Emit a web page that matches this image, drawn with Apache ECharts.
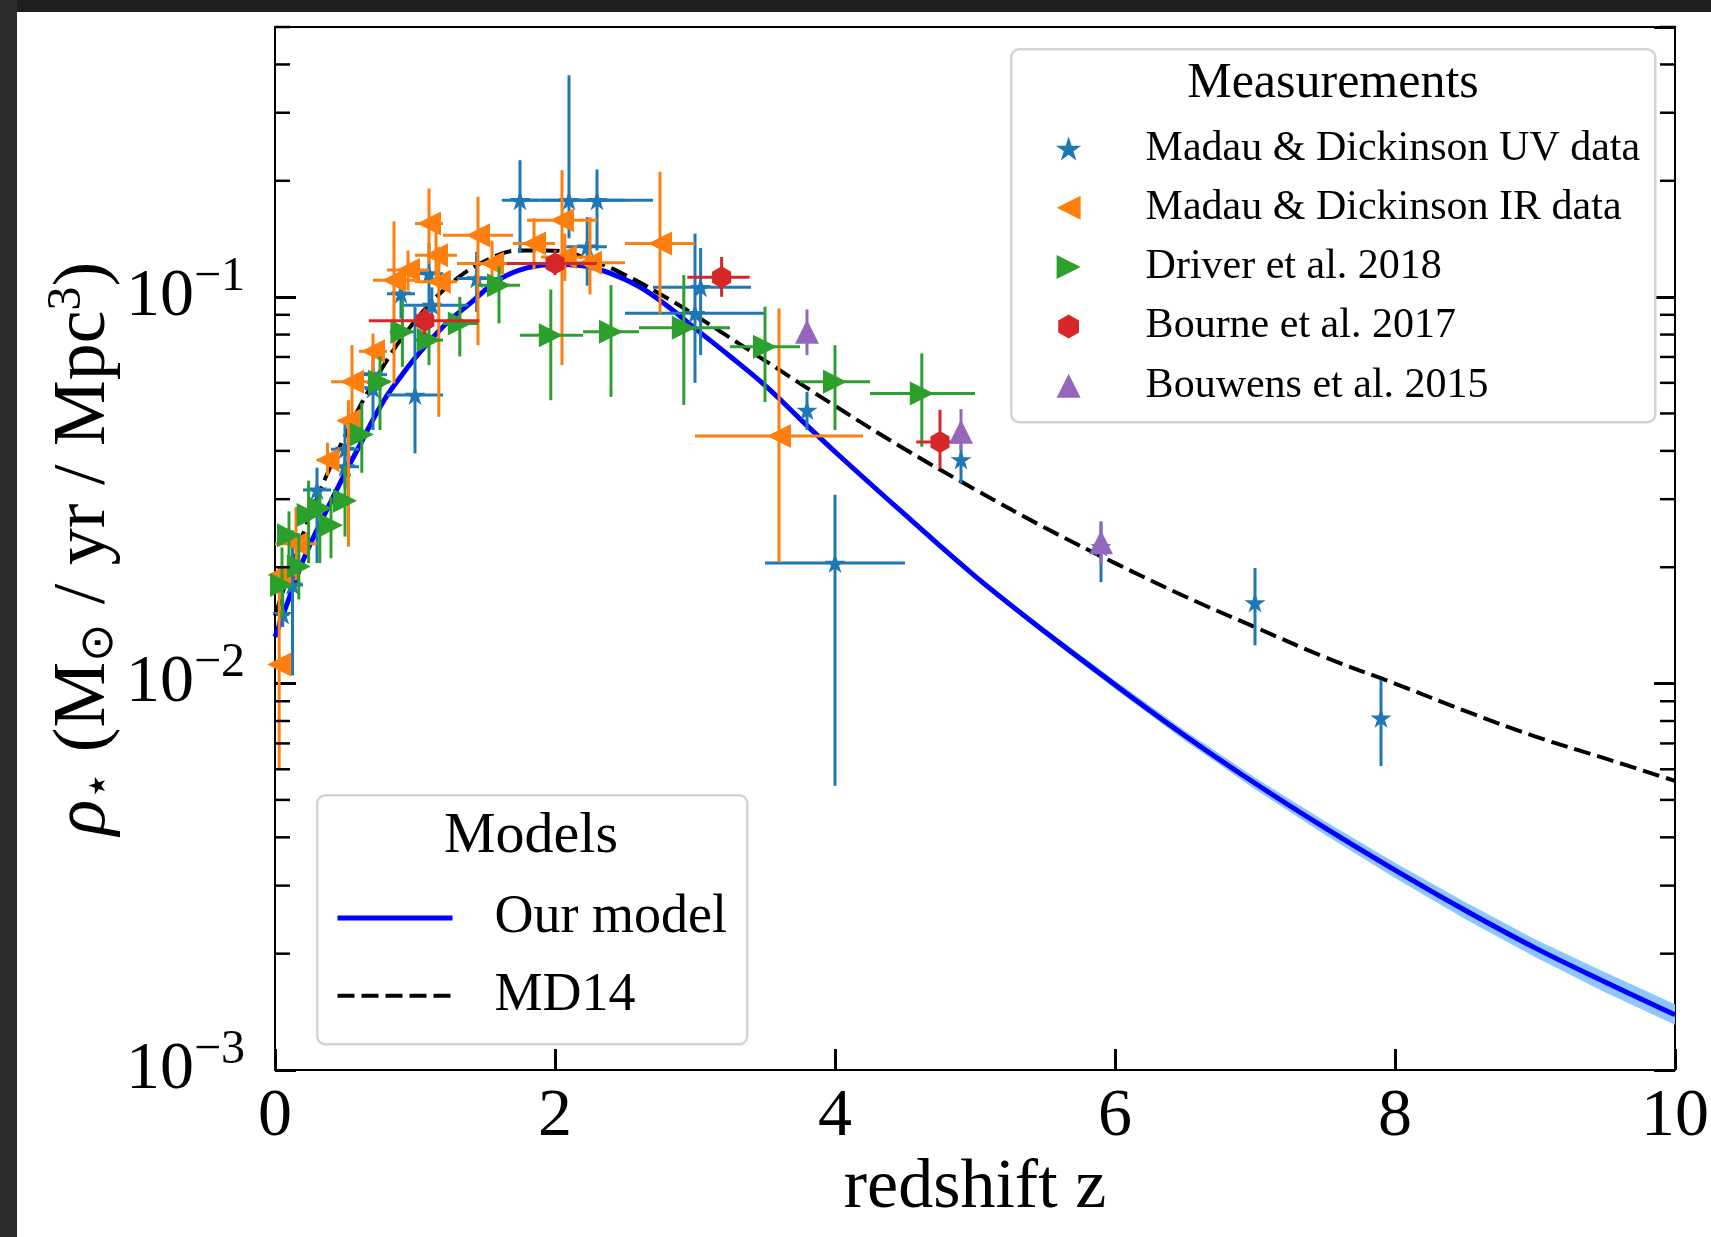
<!DOCTYPE html>
<html>
<head>
<meta charset="utf-8">
<script src="https://cdn.jsdelivr.net/npm/echarts@6/dist/echarts.min.js"></script>
<style>
  html, body { margin: 0; padding: 0; background: #fff; }
  #chart { position: absolute; left: 0; top: 0; width: 1711px; height: 1237px; }
  .edge { position: absolute; z-index: 5; }
</style>
</head>
<body>
<div id="chart"></div>
<div class="edge" style="left:0;top:0;width:1711px;height:12px;background:#1f1f1f"></div>
<div class="edge" style="left:0;top:0;width:17px;height:1237px;background:#2c2c2c"></div>
<script>
// ---- axis ranges and ticks ----
const zMin = 0, zMax = 10, zStep = 2;
const rhoMin = 0.001, rhoMax = 0.5;
const rhoMinorTicks = [0.002, 0.003, 0.004, 0.005, 0.006, 0.007, 0.008, 0.009,
                       0.02, 0.03, 0.04, 0.05, 0.06, 0.07, 0.08, 0.09,
                       0.2, 0.3, 0.4, 0.5];

// ---- measurements: [z, zLow, zHigh, rho, rhoLow, rhoHigh] ----
const uvRows = [
  [0.055, 0.01, 0.10, 0.0151, 0.0140, 0.0185],
  [0.125, 0.05, 0.20, 0.0180, 0.0105, 0.0249],
  [0.30, 0.20, 0.40, 0.0317, 0.0205, 0.0362],
  [0.50, 0.40, 0.60, 0.0364, 0.0320, 0.0410],
  [0.50, 0.40, 0.60, 0.0404, 0.0340, 0.0470],
  [0.70, 0.60, 0.80, 0.0630, 0.0560, 0.0700],
  [0.70, 0.64, 0.76, 0.0580, 0.0453, 0.0647],
  [0.90, 0.80, 1.00, 0.102, 0.088, 0.116],
  [1.00, 0.80, 1.20, 0.0558, 0.0394, 0.0944],
  [1.10, 1.00, 1.20, 0.115, 0.0964, 0.138],
  [1.12, 0.92, 1.38, 0.0953, 0.0855, 0.106],
  [1.44, 1.30, 1.63, 0.1117, 0.0916, 0.131],
  [1.75, 1.62, 1.88, 0.178, 0.130, 0.226],
  [2.10, 1.70, 2.50, 0.178, 0.142, 0.375],
  [2.30, 1.90, 2.70, 0.178, 0.132, 0.214],
  [2.23, 2.08, 2.37, 0.135, 0.107, 0.161],
  [3.04, 2.70, 3.40, 0.106, 0.0708, 0.134],
  [3.00, 2.50, 3.50, 0.0908, 0.060, 0.146],
  [3.80, 3.80, 3.80, 0.0510, 0.0453, 0.0569],
  [4.00, 3.50, 4.50, 0.0205, 0.00544, 0.0308],
  [4.90, 4.90, 4.90, 0.0380, 0.0330, 0.0415],
  [5.90, 5.90, 5.90, 0.0226, 0.0183, 0.0261],
  [7.00, 7.00, 7.00, 0.0162, 0.01256, 0.0199],
  [7.90, 7.90, 7.90, 0.00815, 0.00612, 0.01023]
];
const irRows = [
  [0.03, 0.03, 0.03, 0.0112, 0.0060, 0.0199],
  [0.03, 0.03, 0.03, 0.0191, 0.0182, 0.0200],
  [0.15, 0.00, 0.30, 0.0230, 0.0185, 0.0286],
  [0.375, 0.30, 0.45, 0.0379, 0.0345, 0.0420],
  [0.525, 0.45, 0.60, 0.0479, 0.0226, 0.0541],
  [0.55, 0.40, 0.70, 0.0604, 0.0485, 0.0751],
  [0.70, 0.60, 0.80, 0.0724, 0.0610, 0.0805],
  [0.85, 0.70, 1.00, 0.1106, 0.0598, 0.157],
  [0.95, 0.80, 1.10, 0.1175, 0.104, 0.132],
  [1.10, 1.00, 1.20, 0.155, 0.122, 0.191],
  [1.15, 1.00, 1.30, 0.1284, 0.110, 0.150],
  [1.17, 1.00, 1.30, 0.1096, 0.049, 0.135],
  [1.45, 1.20, 1.70, 0.1445, 0.0751, 0.1817],
  [1.55, 1.30, 1.80, 0.1222, 0.105, 0.140],
  [1.85, 1.70, 2.00, 0.1377, 0.118, 0.160],
  [2.05, 1.80, 2.30, 0.158, 0.0667, 0.213],
  [2.07, 1.90, 2.25, 0.127, 0.110, 0.146],
  [2.25, 2.00, 2.50, 0.1227, 0.1016, 0.161],
  [2.75, 2.50, 3.00, 0.1377, 0.0908, 0.211],
  [3.60, 3.00, 4.20, 0.0437, 0.0206, 0.0935]
];
const driverRows = [
  [0.05, 0.02, 0.08, 0.0180, 0.0148, 0.0225],
  [0.10, 0.06, 0.14, 0.0242, 0.0213, 0.0279],
  [0.17, 0.14, 0.20, 0.0201, 0.0165, 0.0245],
  [0.24, 0.20, 0.28, 0.0273, 0.0205, 0.0335],
  [0.32, 0.28, 0.36, 0.0284, 0.0205, 0.0310],
  [0.40, 0.36, 0.45, 0.0257, 0.0211, 0.0304],
  [0.50, 0.45, 0.56, 0.0297, 0.0240, 0.0365],
  [0.62, 0.56, 0.68, 0.0441, 0.0351, 0.0532],
  [0.75, 0.68, 0.82, 0.0604, 0.0453, 0.0702],
  [0.91, 0.82, 1.00, 0.0813, 0.0660, 0.0980],
  [1.10, 1.00, 1.20, 0.0774, 0.0667, 0.0900],
  [1.32, 1.20, 1.45, 0.0855, 0.0702, 0.1002],
  [1.60, 1.45, 1.75, 0.1074, 0.0855, 0.120],
  [1.97, 1.75, 2.20, 0.0797, 0.0541, 0.1047],
  [2.40, 2.20, 2.60, 0.0813, 0.0552, 0.1074],
  [2.92, 2.60, 3.25, 0.0833, 0.0526, 0.114],
  [3.50, 3.25, 3.75, 0.0744, 0.0535, 0.0944],
  [4.00, 3.75, 4.25, 0.0604, 0.0453, 0.0751],
  [4.62, 4.25, 5.00, 0.0563, 0.0410, 0.0715]
];
const bourneRows = [
  [1.07, 0.67, 1.46, 0.0868, 0.080, 0.094],
  [2.00, 1.655, 2.30, 0.1222, 0.114, 0.1324],
  [3.19, 2.945, 3.39, 0.1125, 0.1002, 0.127],
  [4.75, 4.58, 4.88, 0.0422, 0.0360, 0.0511]
];
const bouwensRows = [
  [3.8, 3.8, 3.8, 0.0813, 0.0708, 0.0929],
  [4.9, 4.9, 4.9, 0.0448, 0.0402, 0.0513],
  [5.9, 5.9, 5.9, 0.0232, 0.0204, 0.0263]
];

// ---- model curves ----
const modelZ = [0, 0.1, 0.2, 0.3, 0.4, 0.5, 0.6, 0.7, 0.8, 0.9, 1.0, 1.2, 1.4, 1.6, 1.8, 2.0,
                2.2, 2.4, 2.6, 2.8, 3.0, 3.25, 3.5, 3.75, 4.0, 4.5, 5.0, 5.5, 6.0, 6.5,
                7.0, 7.5, 8.0, 8.5, 9.0, 9.5, 10];
const modelRho = [0.0132, 0.0166, 0.0208, 0.0250, 0.0296, 0.0350, 0.0410, 0.0482, 0.0556,
                  0.0624, 0.0695, 0.0838, 0.0968, 0.1110, 0.1190, 0.1215, 0.1205, 0.1150,
                  0.1065, 0.0950, 0.0830, 0.0703, 0.0591, 0.0484, 0.0398, 0.02735, 0.01897,
                  0.01361, 0.00993, 0.00733, 0.00552, 0.00423, 0.00329, 0.00259, 0.00207,
                  0.00169, 0.00139];
const bandZ  = [4.5, 5.0, 5.5, 6.0, 6.5, 7.0, 7.5, 8.0, 8.5, 9.0, 9.5, 10];
const bandLo = [0.0271, 0.01869, 0.01334, 0.00968, 0.00711, 0.00533, 0.00406, 0.00314,
                0.00246, 0.00196, 0.00159, 0.00131];
const bandHi = [0.0276, 0.01925, 0.01388, 0.01018, 0.00755, 0.00571, 0.00440, 0.00344,
                0.00272, 0.00218, 0.00179, 0.00148];
const md14Z = [0, 0.25, 0.5, 0.75, 1.0, 1.25, 1.5, 1.75, 2.0, 2.25, 2.5, 2.75, 3.0, 3.5, 4.0,
               4.5, 5.0, 5.5, 6.0, 6.5, 7.0, 7.5, 8.0, 8.5, 9.0, 9.5, 10];
const md14Rho = [0.0150, 0.0272, 0.0437, 0.0642, 0.0867, 0.1079, 0.1240, 0.1321, 0.1319,
                 0.1250, 0.1142, 0.1019, 0.0898, 0.0685, 0.0523, 0.0404, 0.0318, 0.0253,
                 0.0205, 0.0168, 0.0140, 0.0117, 0.0100, 0.0085, 0.0073, 0.0064, 0.0056];

// ---- styling ----
const FONT = "'Liberation Serif', 'Times New Roman', serif";
const C = { uv: '#1f77b4', ir: '#ff7f0e', driver: '#2ca02c', bourne: '#d62728',
            bouwens: '#9467bd', model: '#0000ff', band: '#8ec7ff' };

function starPath() {
  const pts = [];
  for (let i = 0; i < 10; i++) {
    const a = -Math.PI / 2 + i * Math.PI / 5;
    const r = i % 2 ? 0.381966 : 1;
    pts.push((r * Math.cos(a)).toFixed(4) + ',' + (r * Math.sin(a)).toFixed(4));
  }
  return 'path://M' + pts.join(' L') + ' Z';
}
function hexPath() {
  const pts = [];
  for (let i = 0; i < 6; i++) {
    const a = -Math.PI / 2 + i * Math.PI / 3;
    pts.push(Math.cos(a).toFixed(4) + ',' + Math.sin(a).toFixed(4));
  }
  return 'path://M' + pts.join(' L') + ' Z';
}
const STAR = starPath(), HEX = hexPath();
const TRI_LEFT = 'path://M1,-1 L1,1 L-1,0 Z';
const TRI_RIGHT = 'path://M-1,-1 L-1,1 L1,0 Z';
const TRI_UP = 'path://M0,-1 L1,1 L-1,1 Z';

function errorBars(id, rows, color, z) {
  return {
    type: 'custom', id: id, z: z, silent: true, clip: true,
    data: rows, encode: { x: 0, y: 3 },
    renderItem: function (params, api) {
      const zc = api.value(0), zl = api.value(1), zh = api.value(2);
      const v = api.value(3), vl = api.value(4), vh = api.value(5);
      const style = { stroke: color, lineWidth: 3, fill: null };
      const kids = [];
      if (zh > zl) {
        const a = api.coord([zl, v]), b = api.coord([zh, v]);
        kids.push({ type: 'line', shape: { x1: a[0], y1: a[1], x2: b[0], y2: b[1] }, style: style });
      }
      const c = api.coord([zc, vl]), d = api.coord([zc, vh]);
      kids.push({ type: 'line', shape: { x1: c[0], y1: c[1], x2: d[0], y2: d[1] }, style: style });
      return { type: 'group', children: kids };
    }
  };
}
function markers(name, rows, color, symbol, size, z) {
  return {
    type: 'scatter', name: name, z: z, silent: true,
    symbol: symbol, symbolSize: size, symbolKeepAspect: true,
    itemStyle: { color: color, opacity: 1 },
    data: rows.map(r => [r[0], r[3]])
  };
}

const yLabelRich = {
  b: { fontSize: 68, fontFamily: FONT, color: '#000' },
  s: { fontSize: 48, fontFamily: FONT, color: '#000', padding: [0, 0, 40, 0] }
};
const yNameRich = {
  i: { fontSize: 74, fontFamily: FONT, fontStyle: 'italic', color: '#000', lineHeight: 84 },
  n: { fontSize: 74, fontFamily: FONT, color: '#000', lineHeight: 84 },
  sub: { fontSize: 46, fontFamily: FONT, color: '#000', padding: [30, 0, 0, 0] },
  sup: { fontSize: 48, fontFamily: FONT, color: '#000', padding: [0, 0, 36, 0] }
};

const chart = echarts.init(document.getElementById('chart'), null, { renderer: 'canvas' });
chart.setOption({
  animation: false,
  backgroundColor: '#ffffff',
  grid: { left: 275, right: 36, top: 27, bottom: 167, show: true, borderColor: '#000',
          borderWidth: 2, backgroundColor: 'transparent', containLabel: false,
          outerBoundsMode: 'none' },
  xAxis: {
    type: 'value', min: zMin, max: zMax, interval: zStep,
    axisLine: { show: true, lineStyle: { color: '#000', width: 2 } },
    axisTick: { show: true, inside: true, length: 21, lineStyle: { color: '#000', width: 3 } },
    axisLabel: { margin: 13, fontSize: 68, fontFamily: FONT, color: '#000' },
    splitLine: { show: false },
    name: 'redshift z', nameLocation: 'middle', nameGap: 84, nameMoveOverlap: false,
    nameTextStyle: { fontSize: 70, fontFamily: FONT, color: '#000' }
  },
  yAxis: [{
    type: 'log', logBase: 10, min: rhoMin, max: rhoMax, position: 'left',
    axisLine: { show: true, lineStyle: { color: '#000', width: 2 } },
    axisTick: { show: true, inside: true, length: 21, lineStyle: { color: '#000', width: 3 } },
    axisLabel: {
      margin: 30, showMaxLabel: false,
      formatter: function (v) {
        const e = Math.log10(v), r = Math.round(e);
        if (Math.abs(e - r) > 1e-6) return '';
        return '{b|10}{s|\u2212' + (-r) + '}';
      },
      rich: yLabelRich
    },
    splitLine: { show: false },
    name: '{i|\u03C1}{sub|\u22C6}{n| (M}{sub|\u2299}{n| / yr / Mpc}{sup|3}{n|)}',
    nameLocation: 'middle', nameRotate: 90, nameGap: 148, nameMoveOverlap: false,
    nameTextStyle: { rich: yNameRich }
  }, {
    type: 'log', logBase: 10, min: rhoMin, max: rhoMax, position: 'right',
    axisLine: { show: false },
    axisTick: { show: true, inside: true, length: 21, lineStyle: { color: '#000', width: 3 } },
    axisLabel: { show: false },
    splitLine: { show: false }
  }],
  legend: [{
    data: [
      { name: 'Madau & Dickinson UV data', icon: STAR },
      { name: 'Madau & Dickinson IR data', icon: TRI_LEFT },
      { name: 'Driver et al. 2018', icon: TRI_RIGHT },
      { name: 'Bourne et al. 2017', icon: HEX },
      { name: 'Bouwens et al. 2015', icon: TRI_UP }
    ],
    orient: 'vertical', left: 1056, top: 127.5, padding: 0,
    itemWidth: 26, itemHeight: 24, itemGap: 17.3, selectedMode: false,
    symbolKeepAspect: true,
    textStyle: { fontSize: 42, fontFamily: FONT, color: '#000', padding: [0, 0, 0, 59] }
  }, {
    data: [
      { name: 'Our model', itemStyle: { opacity: 0 }, lineStyle: { width: 5, color: C.model, type: 'solid' } },
      { name: 'MD14', itemStyle: { opacity: 0 }, lineStyle: { width: 4, color: '#000', type: [17, 7] } }
    ],
    orient: 'vertical', left: 335, top: 891, padding: 0,
    itemWidth: 115, itemHeight: 20, itemGap: 23.8, selectedMode: false,
    itemStyle: { opacity: 0 },
    textStyle: { fontSize: 54, fontFamily: FONT, color: '#000', padding: [0, 0, 0, 37] }
  }],
  graphic: [
    { type: 'rect', left: 1010, top: 48, z: 3, shape: { width: 644, height: 373, r: 8 },
      style: { fill: 'rgba(255,255,255,0.8)', stroke: '#d4d4d4', lineWidth: 2.5 } },
    { type: 'text', x: 1333, y: 84, z: 5,
      style: { text: 'Measurements', fontSize: 50, fontFamily: FONT, fill: '#000',
               textAlign: 'center', textVerticalAlign: 'middle' } },
    { type: 'rect', left: 316, top: 794, z: 3, shape: { width: 430, height: 249, r: 8 },
      style: { fill: 'rgba(255,255,255,0.8)', stroke: '#d4d4d4', lineWidth: 2.5 } },
    { type: 'text', x: 531, y: 837, z: 5,
      style: { text: 'Models', fontSize: 58, fontFamily: FONT, fill: '#000',
               textAlign: 'center', textVerticalAlign: 'middle' } }
  ],
  series: [
    // uncertainty band of our model
    {
      type: 'custom', id: 'band', z: 3, silent: true, clip: true,
      data: [[bandZ[0], bandLo[0]]], encode: { x: 0, y: 1 },
      renderItem: function (params, api) {
        const pts = [];
        for (let i = 0; i < bandZ.length; i++) pts.push(api.coord([bandZ[i], bandHi[i]]));
        for (let i = bandZ.length - 1; i >= 0; i--) pts.push(api.coord([bandZ[i], bandLo[i]]));
        return { type: 'polygon', shape: { points: pts }, style: { fill: C.band } };
      }
    },
    {
      type: 'line', name: 'Our model', z: 5, silent: true, symbol: 'none', showSymbol: false,
      smooth: 0.4,
      lineStyle: { color: C.model, width: 5 }, itemStyle: { color: C.model },
      data: modelZ.map((z, i) => [z, modelRho[i]])
    },
    {
      type: 'line', name: 'MD14', z: 6, silent: true, symbol: 'none', showSymbol: false,
      smooth: 0.4,
      lineStyle: { color: '#000', width: 4, type: [17, 7] }, itemStyle: { color: '#000' },
      data: md14Z.map((z, i) => [z, md14Rho[i]])
    },
    errorBars('uv-err', uvRows, C.uv, 10),
    markers('Madau & Dickinson UV data', uvRows, C.uv, STAR, 21, 11),
    errorBars('ir-err', irRows, C.ir, 12),
    markers('Madau & Dickinson IR data', irRows, C.ir, TRI_LEFT, 24, 13),
    errorBars('driver-err', driverRows, C.driver, 14),
    markers('Driver et al. 2018', driverRows, C.driver, TRI_RIGHT, 24, 15),
    errorBars('bourne-err', bourneRows, C.bourne, 16),
    markers('Bourne et al. 2017', bourneRows, C.bourne, HEX, 22, 17),
    errorBars('bouwens-err', bouwensRows, C.bouwens, 18),
    markers('Bouwens et al. 2015', bouwensRows, C.bouwens, TRI_UP, 24, 19),
    // minor ticks of the log axis, drawn inward on both sides
    {
      type: 'custom', id: 'minor-ticks', z: 30, silent: true, clip: false,
      data: rhoMinorTicks.map(v => [zMin, v]), encode: { x: 0, y: 1 },
      renderItem: function (params, api) {
        const v = api.value(1);
        const l = api.coord([zMin, v]), r = api.coord([zMax, v]);
        const st = { stroke: '#000', lineWidth: 2.5 };
        return { type: 'group', children: [
          { type: 'line', shape: { x1: l[0], y1: l[1], x2: l[0] + 15, y2: l[1] }, style: st },
          { type: 'line', shape: { x1: r[0] - 15, y1: r[1], x2: r[0], y2: r[1] }, style: st }
        ] };
      }
    }
  ]
});
</script>
</body>
</html>
